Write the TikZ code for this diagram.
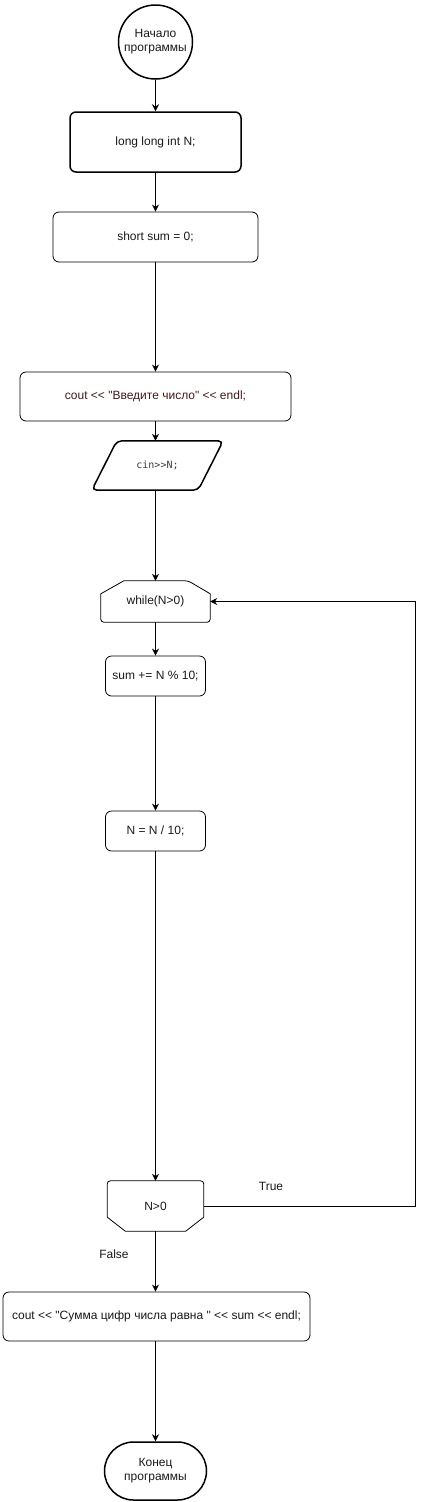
\documentclass[tikz,border=0pt]{standalone}
\usepackage{fontspec}
\newfontfamily\mainf{Liberation Sans}
\newfontfamily\codefont{DejaVu Sans Mono}
\usetikzlibrary{arrows.meta,calc}
\definecolor{codered}{RGB}{70,25,25}
\definecolor{txt}{RGB}{25,25,25}
\tikzset{
  base/.style={font=\mainf\fontsize{12}{14}\selectfont, text=txt, align=center, inner sep=0pt},
  thickbox/.style={base, draw, line width=1.5pt, rounded corners=6pt},
  thinbox/.style={base, draw, line width=0.8pt, rounded corners=6pt},
  ghost/.style={base, draw=none},
  arr/.style={line width=0.8pt, -{Stealth[length=7pt,width=7pt]}},
  ln/.style={line width=0.8pt},
  lbl/.style={font=\mainf\fontsize{12}{14}\selectfont, text=txt, inner sep=0pt}
}
\begin{document}
\begin{tikzpicture}[x=1pt,y=-1pt]
\useasboundingbox (0,0) rectangle (424,1502);
% start
\node[base, draw, circle, line width=1.5pt, minimum size=74pt] (S) at (155.5,42) {Начало\\программы};
\node[thickbox, minimum width=171pt, minimum height=60pt] (A) at (155.5,142) {long long int N;};
\node[thinbox, minimum width=205pt, minimum height=50pt] (B) at (155.5,237) {short sum = 0;};
\node[thinbox, minimum width=271pt, minimum height=49pt, text=codered] (C) at (155.5,396.5) {cout << "Введите число" << endl;};
% parallelogram
\node[ghost, minimum width=106pt, minimum height=49pt, font=\codefont\fontsize{10}{12}\selectfont, text=txt!85] (D) at (157.5,465.5) {cin>>N;};
\draw[line width=1.5pt, rounded corners=5pt] ($(D.north west)+(12.5,0)$) -- ($(D.north east)+(12.5,0)$) -- ($(D.south east)+(-12.5,0)$) -- ($(D.south west)+(-12.5,0)$) -- cycle;
% while loop limit
\node[ghost, minimum width=109pt, minimum height=41pt] (E) at (155.5,601.5) {while(N>0)};
\draw[ln, rounded corners=3pt] ($(E.north west)+(23,0)$) -- ($(E.north east)+(-22,0)$) [sharp corners] -- ($(E.north east)+(0,13)$) [rounded corners=3pt] -- (E.south east) -- (E.south west) [sharp corners] -- ($(E.north west)+(0,13)$) -- cycle;
\node[thinbox, minimum width=100pt, minimum height=40pt] (F) at (155.5,676) {sum += N \% 10;};
\node[thinbox, minimum width=100pt, minimum height=40pt] (G) at (155.5,831) {N = N / 10;};
% N>0 loop end
\node[ghost, minimum width=96pt, minimum height=50pt] (H) at (155.5,1206) {N>0};
\draw[ln, rounded corners=3pt] (H.north west) -- (H.north east) [sharp corners] -- ($(H.south east)+(0,-14)$) -- ($(H.south east)+(-18,0)$) -- ($(H.south west)+(18,0)$) -- ($(H.south west)+(0,-14)$) [rounded corners=3pt] -- cycle;
\node[thinbox, minimum width=307pt, minimum height=49pt] (I) at (156.5,1316.5) {cout << "Сумма цифр числа равна " << sum << endl;};
\node[base, draw, line width=1.5pt, rounded corners=29pt, minimum width=102pt, minimum height=58pt] (J) at (155.5,1471) {Конец\\программы};
% connectors
\draw[arr] (S) -- (A);
\draw[arr] (A) -- (B);
\draw[arr] (B) -- (C);
\draw[arr] (C.south) -- (C.south |- D.north);
\draw[arr] (D.south -| C.south) -- (C.south |- E.north);
\draw[arr] (E) -- (F);
\draw[arr] (F) -- (G);
\draw[arr] (G) -- (H);
\coordinate (R) at (415,1206);
\draw[arr] (H.east) -- (R) |- (E.east);
\draw[arr] (H.south) -- (H.south |- I.north);
\draw[arr] (I.south -| H.south) -- (H.south |- J.north);
\node[lbl] (T) at (271,1186) {True};
\node[lbl] (Fl) at (114,1254) {False};
\end{tikzpicture}
\end{document}
